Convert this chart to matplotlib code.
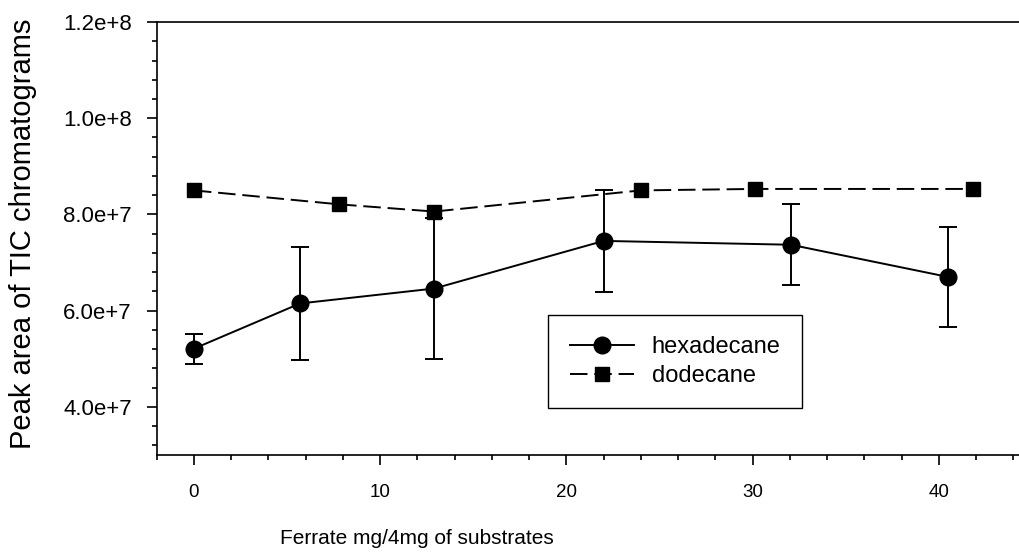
import matplotlib.pyplot as plt
from matplotlib.ticker import MultipleLocator, FixedLocator

plt.rcParams['font.family'] = ['Liberation Sans', 'DejaVu Sans']

# hexadecane (mean +/- error)
hex_x = [0, 5.7, 12.9, 22.0, 32.05, 40.5]
hex_y = [5.21e7, 6.15e7, 6.46e7, 7.45e7, 7.37e7, 6.70e7]
hex_err = [0.31e7, 1.18e7, 1.46e7, 1.06e7, 0.84e7, 1.04e7]

# dodecane
dod_x = [0, 7.8, 12.9, 24.0, 30.1, 41.8]
dod_y = [8.50e7, 8.21e7, 8.06e7, 8.50e7, 8.53e7, 8.53e7]

ytick_vals = [4e7, 6e7, 8e7, 1e8, 1.2e8]
ytick_labels = ['4.0e+7', '6.0e+7', '8.0e+7', '1.0e+8', '1.2e+8']
xtick_vals = [0, 10, 20, 30, 40]

fig = plt.figure(figsize=(10.2, 5.56), dpi=100)
ax = fig.add_axes([0.1536, 0.1817, 1 - 0.1536, 0.9604 - 0.1817])

hex_line = ax.errorbar(hex_x, hex_y, yerr=hex_err, color='black', marker='o',
                       markersize=12, linewidth=1.4, elinewidth=1.4, capsize=6.4,
                       capthick=1.4, label='hexadecane', zorder=3)
dod_line, = ax.plot(dod_x, dod_y, color='black', marker='s', markersize=10.5,
                    linewidth=1.4, dashes=(9, 3.5), label='dodecane', zorder=3)

ax.set_xlim(-2, 44.35)
ax.set_ylim(3e7, 1.2e8)

ax.xaxis.set_major_locator(FixedLocator(xtick_vals))
ax.xaxis.set_minor_locator(MultipleLocator(2))
ax.yaxis.set_major_locator(FixedLocator(ytick_vals))
ax.set_yticklabels(ytick_labels)
ax.yaxis.set_minor_locator(MultipleLocator(4e6))

ax.tick_params(which='both', direction='out', width=1.2, top=False, right=False)
ax.tick_params(which='major', length=7)
ax.tick_params(which='minor', length=3.6)
ax.tick_params(axis='y', labelsize=16, pad=11)
ax.tick_params(axis='x', labelsize=13.5, pad=14)

for side in ['left', 'bottom', 'top']:
    ax.spines[side].set_linewidth(1.2)
ax.spines['right'].set_visible(False)

ax.set_xlabel('Ferrate mg/4mg of substrates', fontsize=15)
ax.xaxis.set_label_coords(0.301, -0.172)
ax.set_ylabel('Peak area of TIC chromatograms', fontsize=21)
ax.yaxis.set_label_coords(-0.139, 0.51)

# legend shows only the line + marker, not the error bars
leg = ax.legend(handles=[hex_line.lines[0], dod_line], labels=['hexadecane', 'dodecane'],
                loc='upper left', bbox_to_anchor=(0.5376, 0.434),
                bbox_transform=fig.transFigure, fontsize=17, frameon=True,
                fancybox=False, edgecolor='black', framealpha=1,
                handlelength=2.72, handletextpad=0.75, borderpad=0.9,
                labelspacing=0.3, borderaxespad=0)
leg.get_frame().set_linewidth(1.0)

fig.savefig('out.png', dpi=100)
